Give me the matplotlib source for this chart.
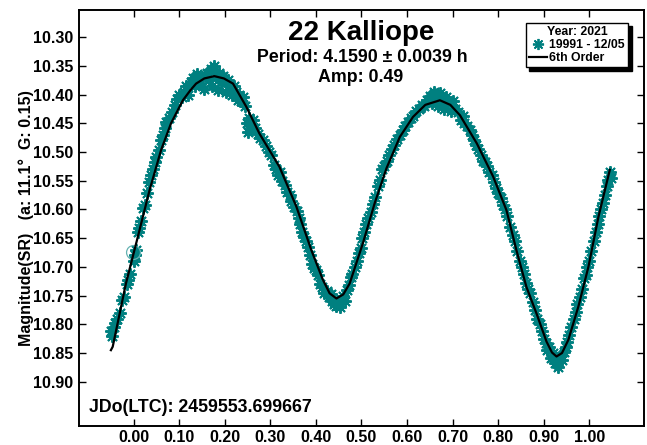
import matplotlib
matplotlib.use("Agg")
import matplotlib.pyplot as plt
from matplotlib.lines import Line2D

plt.rcParams['font.family'] = ['Liberation Sans', 'DejaVu Sans']
plt.rcParams['font.weight'] = 'bold'

# ---- data -------------------------------------------------------------
obs_phase = [
    -0.050, -0.047, -0.044, -0.040, -0.036, -0.030, -0.026, -0.022, -0.015, -0.012,
    -0.008, 0.000, 0.003, 0.006, 0.010, 0.012, 0.016, 0.020, 0.024, 0.030,
    0.034, 0.037, 0.042, 0.046, 0.050, 0.055, 0.060, 0.064, 0.068, 0.072,
    0.078, 0.084, 0.090, 0.095, 0.100, 0.106,
    0.110, 0.115, 0.120, 0.125, 0.130, 0.135, 0.140, 0.145, 0.150, 0.155,
    0.160, 0.165, 0.170, 0.172, 0.176, 0.180, 0.184, 0.188, 0.192, 0.197,
    0.202, 0.206, 0.210, 0.215, 0.220, 0.224, 0.228, 0.232, 0.236, 0.240, 0.244,
    0.248, 0.250, 0.254, 0.258, 0.262, 0.266, 0.272, 0.278, 0.284, 0.290,
    0.296, 0.302, 0.308, 0.312, 0.316, 0.322, 0.326, 0.332, 0.336, 0.342,
    0.346, 0.352, 0.358, 0.362, 0.366, 0.370, 0.374, 0.378, 0.383, 0.388,
    0.392, 0.396, 0.400, 0.404, 0.410, 0.414, 0.418, 0.424, 0.428, 0.432,
    0.436, 0.440, 0.444, 0.448, 0.452, 0.456, 0.460, 0.464,
    0.468, 0.472, 0.476, 0.480, 0.486, 0.490, 0.494, 0.498, 0.502, 0.506,
    0.510, 0.515, 0.520, 0.525, 0.530, 0.536, 0.540, 0.546, 0.550, 0.556,
    0.560, 0.566, 0.572, 0.578, 0.584, 0.590, 0.596, 0.602, 0.608, 0.614,
    0.620, 0.626, 0.632, 0.638, 0.644, 0.650, 0.655, 0.660, 0.664, 0.668,
    0.672, 0.676, 0.680, 0.685, 0.690, 0.696, 0.700,
    0.706, 0.712, 0.718, 0.722, 0.726, 0.732, 0.738, 0.742, 0.748, 0.752,
    0.756, 0.762, 0.766, 0.772, 0.776, 0.780, 0.786, 0.790, 0.796, 0.800,
    0.806, 0.810, 0.814, 0.820, 0.826, 0.832, 0.836, 0.842, 0.848, 0.852,
    0.856, 0.862, 0.866, 0.870, 0.876, 0.880, 0.886, 0.892, 0.896, 0.900,
    0.904, 0.908, 0.912, 0.916, 0.920, 0.924, 0.928, 0.932, 0.936, 0.940,
    0.944, 0.948,
    0.952, 0.956, 0.960, 0.966, 0.970, 0.974, 0.980, 0.984, 0.988, 0.992,
    0.996, 1.000, 1.004, 1.010, 1.014, 1.018, 1.022, 1.026, 1.030, 1.034,
    1.038, 1.042, 1.046, 1.048,
]
obs_mag = [
    10.812, 10.820, 10.805, 10.798, 10.790, 10.780, 10.758, 10.752, 10.730, 10.722,
    10.712, 10.690, 10.680, 10.670, 10.640, 10.632, 10.620, 10.598, 10.592, 10.572,
    10.552, 10.540, 10.530, 10.518, 10.508, 10.496, 10.480, 10.470, 10.458, 10.448,
    10.440, 10.430, 10.418, 10.408, 10.400, 10.404,
    10.395, 10.385, 10.400, 10.378, 10.372, 10.385, 10.365, 10.380, 10.370, 10.390,
    10.362, 10.375, 10.355, 10.385, 10.350, 10.370, 10.392, 10.362, 10.378, 10.368,
    10.395, 10.375, 10.385, 10.400, 10.385, 10.395, 10.410, 10.400, 10.412, 10.405, 10.420,
    10.450, 10.465, 10.440, 10.455, 10.445, 10.458, 10.468, 10.475, 10.480, 10.490,
    10.500, 10.505, 10.522, 10.530, 10.540, 10.535, 10.550, 10.558, 10.570, 10.575,
    10.585, 10.595, 10.602, 10.615, 10.625, 10.640, 10.648, 10.655, 10.665, 10.680,
    10.695, 10.702, 10.705, 10.715, 10.730, 10.735, 10.745, 10.742, 10.752, 10.748,
    10.760, 10.765, 10.768, 10.760, 10.770, 10.758, 10.750, 10.760,
    10.740, 10.732, 10.718, 10.712, 10.700, 10.690, 10.675, 10.668, 10.650, 10.640,
    10.625, 10.615, 10.605, 10.590, 10.578, 10.560, 10.548, 10.530, 10.525, 10.515,
    10.505, 10.495, 10.488, 10.478, 10.470, 10.462, 10.455, 10.448, 10.440, 10.438,
    10.428, 10.425, 10.418, 10.420, 10.410, 10.402, 10.415, 10.395, 10.405, 10.420,
    10.398, 10.412, 10.425, 10.405, 10.415, 10.428, 10.412,
    10.425, 10.430, 10.445, 10.438, 10.450, 10.455, 10.462, 10.470, 10.480, 10.488,
    10.495, 10.505, 10.515, 10.518, 10.525, 10.535, 10.540, 10.552, 10.562, 10.572,
    10.580, 10.592, 10.600, 10.612, 10.630, 10.645, 10.655, 10.672, 10.690, 10.700,
    10.712, 10.728, 10.738, 10.745, 10.762, 10.775, 10.790, 10.800, 10.812, 10.825,
    10.832, 10.845, 10.840, 10.858, 10.850, 10.868, 10.860, 10.875, 10.855, 10.862,
    10.848, 10.840,
    10.830, 10.818, 10.805, 10.790, 10.778, 10.765, 10.752, 10.738, 10.720, 10.715,
    10.700, 10.690, 10.672, 10.655, 10.640, 10.625, 10.612, 10.600, 10.588, 10.575,
    10.560, 10.548, 10.535, 10.545,
]

flag_phase = [-0.002]
flag_mag = [10.674]

fit_phase = [
    -0.050, -0.046, -0.017, 0.009, 0.035, 0.060, 0.082, 0.108, 0.125, 0.137,
    0.155, 0.177, 0.198, 0.218, 0.247, 0.276, 0.320, 0.357, 0.390, 0.415,
    0.430, 0.445, 0.460, 0.474, 0.503, 0.529, 0.555, 0.584, 0.613, 0.640,
    0.672, 0.695, 0.716, 0.753, 0.789, 0.818, 0.840, 0.862, 0.884, 0.906,
    0.918, 0.928, 0.940, 0.954, 0.976, 0.998, 1.020, 1.045,
]
fit_mag = [
    10.845, 10.839, 10.729, 10.648, 10.566, 10.497, 10.450, 10.410, 10.392, 10.381,
    10.372, 10.368, 10.372, 10.381, 10.421, 10.468, 10.526, 10.595, 10.671, 10.722,
    10.746, 10.755, 10.748, 10.729, 10.659, 10.589, 10.528, 10.474, 10.439, 10.418,
    10.410, 10.418, 10.436, 10.485, 10.543, 10.601, 10.671, 10.735, 10.781, 10.830,
    10.849, 10.856, 10.850, 10.827, 10.769, 10.700, 10.613, 10.531,
]

x_ticks = [0.0, 0.1, 0.2, 0.3, 0.4, 0.5, 0.6, 0.7, 0.8, 0.9, 1.0]
y_ticks = [10.30, 10.35, 10.40, 10.45, 10.50, 10.55, 10.60, 10.65, 10.70, 10.75,
           10.80, 10.85, 10.90]

teal = '#008080'
asterisk = (8, 2, 0)

# ---- figure -----------------------------------------------------------
W, H = 647, 445
fig = plt.figure(figsize=(W / 100, H / 100), dpi=100)
ax = fig.add_axes([79 / W, 1 - 426 / H, (644 - 79) / W, (426 - 9.5) / H])

ax.plot(obs_phase, obs_mag, linestyle='none', marker=asterisk, markersize=9,
        markeredgewidth=1.4, color=teal, zorder=2)
ax.plot(flag_phase, flag_mag, linestyle='none', marker='o', markersize=10,
        markerfacecolor='none', markeredgecolor='#66b3b3', markeredgewidth=0.9, zorder=2)
ax.plot(fit_phase, fit_mag, color='black', linewidth=1.6, zorder=3)

ax.set_xlim(-0.12, 1.12)
ax.set_ylim(10.977, 10.252)
ax.set_xticks(x_ticks)
ax.set_xticklabels([f"{v:.2f}" for v in x_ticks])
ax.set_yticks(y_ticks)
ax.set_yticklabels([f"{v:.2f}" for v in y_ticks])
ax.tick_params(direction='in', length=5, width=1.0, top=True, right=True,
               labelsize=11.5)
ax.tick_params(axis='x', pad=3)
ax.tick_params(axis='y', pad=4)
for lab in ax.get_xticklabels() + ax.get_yticklabels():
    lab.set_fontweight('bold')
for sp in ax.spines.values():
    sp.set_linewidth(1.4)

# texts
fig.text(361.5 / W, 1 - 40 / H, "22 Kalliope", ha='center', va='baseline',
         fontsize=20, fontweight='bold')
fig.text(362 / W, 1 - 62.5 / H, "Period: 4.1590 \u00b1 0.0039 h", ha='center',
         va='baseline', fontsize=12.8, fontweight='bold')
fig.text(361 / W, 1 - 81.5 / H, "Amp: 0.49", ha='center', va='baseline',
         fontsize=12.8, fontweight='bold')
fig.text(89 / W, 1 - 412.5 / H, "JDo(LTC): 2459553.699667", ha='left',
         va='baseline', fontsize=12.8, fontweight='bold')
fig.text(26 / W, 1 - 218 / H, "Magnitude(SR)   (a: 11.1\u00b0  G: 0.15)",
         rotation=90, ha='center', va='center', fontsize=11.5, fontweight='bold')

# legend
handles = [
    Line2D([], [], linestyle='none', marker=asterisk, markersize=8,
           markeredgewidth=1.3, color=teal),
    Line2D([], [], color='black', linewidth=1.6),
]
leg = ax.legend(handles, ["19991 - 12/05", "6th Order"], title="Year: 2021",
                loc='upper right', bbox_to_anchor=(0.972, 0.968),
                prop={'size': 8.8, 'weight': 'bold'},
                title_fontproperties={'size': 8.8, 'weight': 'bold'},
                fancybox=False, framealpha=1, edgecolor='black',
                handlelength=1.5, handletextpad=0.2, borderpad=0.25,
                labelspacing=0.1, borderaxespad=0,
                shadow={'ox': 2.5, 'oy': -2.5, 'facecolor': 'black',
                        'edgecolor': 'black', 'alpha': 1})
leg.get_frame().set_linewidth(1.0)

fig.savefig("out.png", dpi=100)
